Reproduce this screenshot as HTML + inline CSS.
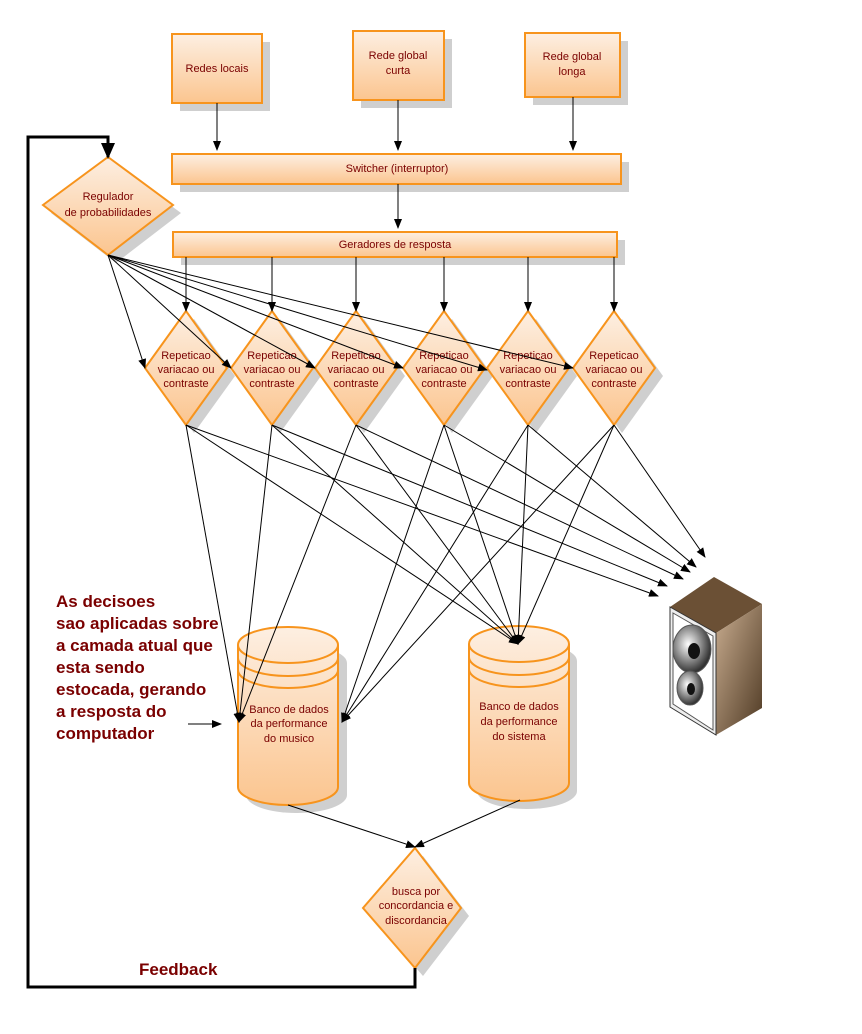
<!DOCTYPE html>
<html><head><meta charset="utf-8"><style>body{margin:0;background:#fff}svg{display:block}</style></head>
<body>
<svg width="862" height="1034" viewBox="0 0 862 1034" xmlns="http://www.w3.org/2000/svg" font-family="Liberation Sans, sans-serif">
<defs>
<linearGradient id="g" x1="0" y1="0" x2="0" y2="1"><stop offset="0" stop-color="#fdefe2"/><stop offset="1" stop-color="#fbc58f"/></linearGradient>
<linearGradient id="sp" x1="0" y1="0" x2="1" y2="1"><stop offset="0" stop-color="#c9ad90"/><stop offset="1" stop-color="#4e3923"/></linearGradient>
<radialGradient id="cone" cx="0.4" cy="0.4" r="0.6"><stop offset="0" stop-color="#fff"/><stop offset="1" stop-color="#333"/></radialGradient>
<marker id="a" markerWidth="10" markerHeight="8" refX="9" refY="4" orient="auto" markerUnits="userSpaceOnUse"><path d="M0,0 L10,4 L0,8z" fill="#000"/></marker>
<marker id="b" markerWidth="16" markerHeight="14" refX="14" refY="7" orient="auto" markerUnits="userSpaceOnUse"><path d="M0,0 L16,7 L0,14z" fill="#000"/></marker>
</defs>
<g fill="#cfcfcf">
<rect x="180" y="42" width="90" height="69"/><rect x="361" y="39" width="91" height="69"/><rect x="533" y="41" width="95" height="64"/>
<rect x="180" y="162" width="449" height="30"/><rect x="181" y="240" width="444" height="25"/>
<polygon points="116,165 181,213 116,263 51,213"/>
<g id="ds"><polygon points="194,319 235,376 194,433 153,376"/></g>
<use href="#ds" x="86"/><use href="#ds" x="170"/><use href="#ds" x="258"/><use href="#ds" x="342"/><use href="#ds" x="428"/>
<rect x="246" y="645" width="101" height="168" rx="50" ry="18"/>
<rect x="477" y="643" width="100" height="166" rx="50" ry="18"/>
<polygon points="423,856 469,916 423,976 371,916"/>
</g>
<g fill="url(#g)" stroke="#f7941d" stroke-width="2">
<rect x="172" y="34" width="90" height="69"/><rect x="353" y="31" width="91" height="69"/><rect x="525" y="33" width="95" height="64"/>
<rect x="172" y="154" width="449" height="30"/><rect x="173" y="232" width="444" height="25"/>
<polygon points="108,157 173,205 108,255 43,205"/>
<g id="dd"><polygon points="186,311 227,368 186,425 145,368"/></g>
<use href="#dd" x="86"/><use href="#dd" x="170"/><use href="#dd" x="258"/><use href="#dd" x="342"/><use href="#dd" x="428"/>
<path d="M238,645 A50,18 0 0 1 338,645 V787 A50,18 0 0 1 238,787 Z"/>
<path d="M238,645 A50,18 0 0 0 338,645 M238,658 A50,18 0 0 0 338,658 M238,670 A50,18 0 0 0 338,670" fill="none"/>
<path d="M469,644 A50,18 0 0 1 569,644 V783 A50,18 0 0 1 469,783 Z"/>
<path d="M469,644 A50,18 0 0 0 569,644 M469,657 A50,18 0 0 0 569,657 M469,669 A50,18 0 0 0 569,669" fill="none"/>
<polygon points="415,848 461,908 415,968 363,908"/>
</g>
<g fill="#7a0000" font-size="11" text-anchor="middle">
<text x="217" y="72">Redes locais</text>
<text x="398" y="59">Rede global</text><text x="398" y="74">curta</text>
<text x="572" y="60">Rede global</text><text x="572" y="75">longa</text>
<text x="397" y="172">Switcher (interruptor)</text>
<text x="395" y="248">Geradores de resposta</text>
<text x="108" y="200">Regulador</text><text x="108" y="216">de probabilidades</text>
<g id="dt"><text x="186" y="359">Repeticao</text><text x="186" y="373">variacao ou</text><text x="186" y="387">contraste</text></g>
<use href="#dt" x="86"/><use href="#dt" x="170"/><use href="#dt" x="258"/><use href="#dt" x="342"/><use href="#dt" x="428"/>
<text x="289" y="713">Banco de dados</text><text x="289" y="727">da performance</text><text x="289" y="742">do musico</text>
<text x="519" y="710">Banco de dados</text><text x="519" y="725">da performance</text><text x="519" y="740">do sistema</text>
<text x="416" y="895">busca por</text><text x="416" y="909">concordancia e</text><text x="416" y="924">discordancia</text>
</g>
<g fill="#7a0000" font-size="17" font-weight="bold">
<text x="56" y="607">As decisoes</text><text x="56" y="629">sao aplicadas sobre</text><text x="56" y="651">a camada atual que</text>
<text x="56" y="673">esta sendo</text><text x="56" y="695">estocada, gerando</text><text x="56" y="717">a resposta do</text><text x="56" y="739">computador</text>
<text x="139" y="975">Feedback</text>
</g>
<g stroke="#000" stroke-width="1" fill="none" marker-end="url(#a)">
<line x1="217" y1="103" x2="217" y2="150"/><line x1="398" y1="100" x2="398" y2="150"/><line x1="573" y1="97" x2="573" y2="150"/>
<line x1="398" y1="184" x2="398" y2="228"/>
<line x1="186" y1="257" x2="186" y2="311"/><line x1="272" y1="257" x2="272" y2="311"/><line x1="356" y1="257" x2="356" y2="311"/>
<line x1="444" y1="257" x2="444" y2="311"/><line x1="528" y1="257" x2="528" y2="311"/><line x1="614" y1="257" x2="614" y2="311"/>
<line x1="108" y1="255" x2="145" y2="368"/><line x1="108" y1="255" x2="231" y2="368"/><line x1="108" y1="255" x2="315" y2="368"/>
<line x1="108" y1="255" x2="403" y2="368"/><line x1="108" y1="255" x2="487" y2="370"/><line x1="108" y1="255" x2="573" y2="368"/>
<line x1="186" y1="425" x2="239" y2="722"/><line x1="186" y1="425" x2="518" y2="644"/><line x1="186" y1="425" x2="658" y2="596"/>
<line x1="272" y1="425" x2="239" y2="722"/><line x1="272" y1="425" x2="518" y2="644"/><line x1="272" y1="425" x2="667" y2="586"/>
<line x1="356" y1="425" x2="239" y2="722"/><line x1="356" y1="425" x2="518" y2="644"/><line x1="356" y1="425" x2="683" y2="579"/>
<line x1="444" y1="425" x2="342" y2="722"/><line x1="444" y1="425" x2="518" y2="644"/><line x1="444" y1="425" x2="690" y2="572"/>
<line x1="528" y1="425" x2="342" y2="722"/><line x1="528" y1="425" x2="518" y2="644"/><line x1="528" y1="425" x2="696" y2="567"/>
<line x1="614" y1="425" x2="342" y2="722"/><line x1="614" y1="425" x2="518" y2="644"/><line x1="614" y1="425" x2="705" y2="557"/>
<line x1="188" y1="724" x2="221" y2="724"/>
<line x1="288" y1="805" x2="415" y2="847"/><line x1="520" y1="800" x2="415" y2="847"/>
</g>
<path d="M415,968 V987 H28 V137 H108 V157" stroke="#000" stroke-width="3" fill="none" marker-end="url(#b)"/>
<g>
<polygon points="670,607 714,577 762,604 716,633" fill="#6b5035"/>
<polygon points="716,633 762,604 762,708 716,735" fill="url(#sp)"/>
<polygon points="670,607 716,633 716,735 670,707" fill="#eee" stroke="#333"/>
<polygon points="673,613 713,636 713,730 673,704" fill="#fff" stroke="#555"/>
<ellipse cx="692" cy="649" rx="19" ry="24" fill="url(#cone)" stroke="#555"/>
<ellipse cx="694" cy="651" rx="6" ry="8" fill="#111"/>
<ellipse cx="690" cy="688" rx="13" ry="17" fill="url(#cone)" stroke="#555"/>
<ellipse cx="691" cy="689" rx="4" ry="6" fill="#111"/>
</g>
</svg>
</body></html>
